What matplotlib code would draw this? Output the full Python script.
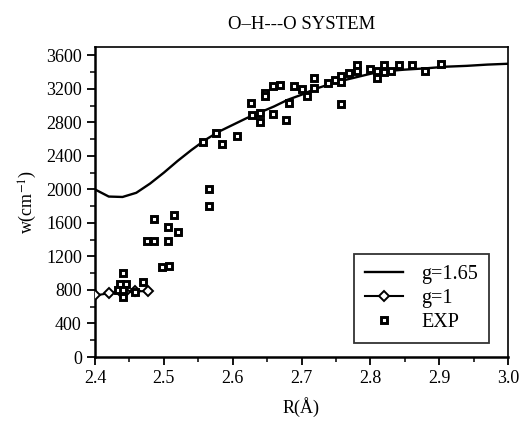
import matplotlib
matplotlib.use("Agg")
import matplotlib.pyplot as plt
from matplotlib.ticker import MultipleLocator

plt.rcParams['font.family'] = ['Liberation Serif', 'DejaVu Serif']
plt.rcParams['mathtext.fontset'] = 'stix'

# g = 1.65 curve
r_fit = [2.40, 2.42, 2.44, 2.46, 2.48, 2.50, 2.52, 2.54, 2.56, 2.58, 2.60, 2.62,
         2.64, 2.66, 2.68, 2.70, 2.72, 2.75, 2.78, 2.80, 2.82, 2.85, 2.88, 2.91,
         2.94, 2.97, 3.00]
w_fit = [2000, 1915, 1910, 1960, 2070, 2200, 2340, 2470, 2590, 2690, 2770, 2850,
         2920, 2990, 3070, 3130, 3200, 3280, 3340, 3380, 3410, 3430, 3445, 3465,
         3475, 3490, 3500]

# g = 1
r_g1 = [2.40, 2.42, 2.437, 2.443, 2.458, 2.477]
w_g1 = [735, 760, 785, 775, 785, 785]

# experimental
r_exp = [2.440, 2.437, 2.445, 2.433, 2.441, 2.440, 2.458, 2.470,
         2.486, 2.475, 2.486, 2.506, 2.515, 2.520, 2.506, 2.497, 2.507,
         2.565, 2.565,
         2.557, 2.576, 2.585, 2.607, 2.627, 2.628, 2.639, 2.639, 2.647, 2.647,
         2.658, 2.669, 2.658, 2.678, 2.682, 2.689, 2.700, 2.708, 2.718, 2.718,
         2.739, 2.749, 2.758, 2.758, 2.769, 2.780, 2.780, 2.757, 2.800, 2.810,
         2.810, 2.820, 2.820, 2.830, 2.841, 2.860, 2.880, 2.902]
w_exp = [1000, 870, 870, 805, 805, 715, 780, 890,
         1650, 1390, 1390, 1550, 1700, 1490, 1390, 1070, 1090,
         2010, 1800,
         2570, 2670, 2540, 2640, 3030, 2890, 2910, 2805, 3150, 3110,
         3230, 3250, 2900, 2825, 3030, 3235, 3200, 3120, 3325, 3215,
         3270, 3310, 3350, 3280, 3390, 3480, 3410, 3020, 3440, 3410,
         3330, 3480, 3400, 3410, 3480, 3480, 3410, 3500]

fig = plt.figure(figsize=(5.2, 4.23), dpi=100)
ax = fig.add_axes([95/520, 66/423, 413/520, 310/423])

ax.plot(r_fit, w_fit, color='black', lw=1.7, label='g=1.65', zorder=2)
ax.plot(r_g1, w_g1, color='black', lw=1.5, marker='D', ms=5, mfc='white',
        mec='black', mew=1.4, label='g=1', zorder=3)
ax.plot(r_exp, w_exp, ls='none', marker='s', ms=4.0, mfc='white', mec='black',
        mew=2.1, label='EXP', zorder=4)

ax.set_xlim(2.4, 3.0)
ax.set_ylim(0, 3700)
ax.xaxis.set_minor_locator(MultipleLocator(0.05))
ax.yaxis.set_major_locator(MultipleLocator(400))
ax.yaxis.set_minor_locator(MultipleLocator(200))
ax.set_xticks([2.4, 2.5, 2.6, 2.7, 2.8, 2.9, 3.0])
ax.set_xticklabels(['2.4', '2.5', '2.6', '2.7', '2.8', '2.9', '3.0'])
ax.tick_params(axis='both', which='major', direction='out', length=6, width=1.3,
               labelsize=13)
ax.tick_params(axis='both', which='minor', direction='out', length=3.5, width=1.1)
for s in ax.spines.values():
    s.set_linewidth(1.2)
ax.spines['left'].set_linewidth(1.8)
ax.spines['bottom'].set_linewidth(1.8)

ax.set_xlabel('R(Å)', fontsize=13, labelpad=7)
ax.set_ylabel('w(cm$^{-1}$)', fontsize=13, labelpad=5)
ax.set_title('O–H---O SYSTEM', fontsize=13.5, pad=13)

leg = ax.legend(loc='lower right', bbox_to_anchor=(0.955, 0.045), fontsize=14.5,
                frameon=True, fancybox=False, edgecolor='black',
                handlelength=1.9, handletextpad=0.9, borderpad=0.55,
                labelspacing=0.25, borderaxespad=0.0)
leg.get_frame().set_linewidth(1.3)

fig.savefig('out.png', dpi=100)
